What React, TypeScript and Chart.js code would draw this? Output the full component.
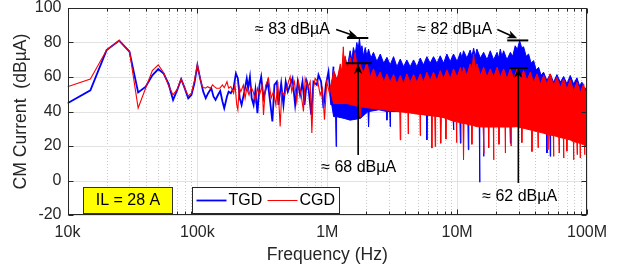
import React, { useEffect, useRef } from 'react';
import { Chart, registerables } from 'chart.js';
Chart.register(...registerables);

const FONT = "'Liberation Sans', Arial, Helvetica, sans-serif";
const TXT = '#262626';

// x-axis decade ticks
const xTickValues = [1e4, 1e5, 1e6, 1e7, 1e8];
const xTickLabels = ['10k', '100k', '1M', '10M', '100M'];
const yTickValues = [-20, 0, 20, 40, 60, 80, 100];

// ---------- TGD (blue) : individual trace, 10 kHz .. ~1.1 MHz ----------
const tgdTraceF = [
  10000, 15000, 20000, 25000, 30000, 35000, 40000, 45000, 50000, 55000, 60000, 65000, 70000, 75000,
  80000, 85000, 90000, 95000, 100000, 105000, 111000, 116000, 121000, 128000, 133000, 138000, 145000,
  150000, 156000, 161000, 169000, 174000, 181000, 190000, 198000, 205000, 212000, 219000, 230000,
  240000, 246000, 254000, 262000, 271000, 280000, 290000, 301000, 310000, 323000, 335000, 348000,
  363000, 378000, 392000, 409000, 421000, 442000, 460000, 479000, 497000, 518000, 540000, 566000,
  593000, 618000, 645000, 668000, 696000, 717000, 752000, 783000, 831000, 856000, 897000, 935000,
  975000, 1022000, 1072000, 1117000,
];
const tgdTraceV = [
  44.8, 52.3, 75.6, 81.1, 74.7, 51.1, 54.4, 61, 64.6, 62, 56, 46.7, 52.5, 58.8,
  53.4, 47.6, 49.6, 56.5, 66.9, 59.2, 51.5, 47.7, 50.6, 53.5, 48.7, 46.7, 50,
  51.9, 45.8, 41.9, 48.7, 51.5, 50.6, 53.5, 62.1, 59.2, 47.7, 43.8, 51.5,
  59.2, 53.5, 60.2, 47.7, 43.8, 52.5, 39, 55.4, 60.2, 47.7, 52.5, 57.3,
  45.8, 34.2, 55.4, 57.3, 43.8, 56.3, 43.8, 57.3, 51.5, 55.4, 59.2, 43.8,
  57.3, 49.6, 57.3, 43.8, 57.3, 53.5, 38.1, 57.3, 55.4, 61.2, 57.3, 41.9,
  55.4, 63, 43.8, 66,
];

// ---------- TGD (blue) : dense band, upper / lower envelopes ----------
const tgdUpperF = [
  1050000, 1120000, 1190000, 1260000, 1310000, 1370000, 1430000, 1500000, 1545000, 1590000, 1640000, 1690000,
  1730000, 1770000, 1810000, 1850000, 1900000, 1960000, 2020000, 2080000, 2170000, 2270000, 2410000,
  2560000, 2720000, 2880000, 3050000, 3240000, 3440000, 3650000, 3870000, 4100000, 4350000, 4620000,
  4900000, 5200000, 5500000, 5850000, 6200000, 6580000, 7000000, 7410000, 7860000, 8340000, 8850000,
  9380000, 10000000, 10600000, 10900000, 11200000, 11900000, 12600000, 13000000, 13400000, 13800000,
  14200000, 15100000, 16000000, 17000000, 18000000, 19100000, 20300000, 20900000, 21500000, 22100000,
  22800000, 24200000, 25700000, 26800000, 28000000, 29100000, 30300000, 31400000, 32500000, 34000000,
  35500000, 37100000, 38800000, 40600000, 42400000, 44300000, 46300000, 49100000, 52100000, 55300000,
  58700000, 62300000, 66100000, 70100000, 74300000, 78900000, 83700000, 87500000, 91400000, 95600000,
  100000000,
];
const tgdUpperV = [
  50, 63.7, 58, 65.6, 62, 71.4, 66, 75.2, 70, 77.1, 73, 80,
  76, 82.5, 75, 78.1, 72, 77.1, 72, 76.2, 71, 74.3, 69,
  73.3, 68, 71.4, 67, 71.8, 66, 70.4, 66, 69.9, 66, 69.9,
  66, 71, 67, 71.8, 68, 71.8, 68, 72.3, 68, 73.3, 69,
  73.3, 69, 74.3, 71, 75.2, 71, 75.6, 72, 76.7, 72,
  76.2, 71, 74.3, 70, 75.2, 70, 74.3, 71, 76.2, 72,
  75.2, 70, 74.3, 72, 78.1, 76, 81, 77, 77.5, 72,
  73.3, 68, 69.5, 64, 65.6, 61, 62.8, 58, 61.8, 57,
  61.4, 57, 60.3, 56, 60.9, 56, 59.5, 55, 57, 53,
  54.2,
];
const tgdLowerF = [
  1050000, 1120000, 1160000, 1170000, 1180000, 1350000, 1500000, 1800000, 2060000, 2080000, 2100000, 2500000,
  2860000, 2880000, 2900000, 3030000, 3050000, 3070000, 4000000, 5800000, 5850000, 5900000, 9300000,
  9380000, 9450000, 10500000, 10600000, 10700000, 12100000, 12200000, 12300000, 14800000, 14900000,
  15000000, 15900000, 16000000, 16100000, 25500000, 25700000, 25900000, 48800000, 49200000, 49600000,
  51700000, 52100000, 52500000, 100000000,
];
const tgdLowerV = [
  50, 37, 37, 19.7, 37, 36, 35, 36, 40, 31.2, 40, 41,
  40, 35, 40, 40, 31.2, 40, 40, 38, 23.5, 38, 36,
  29.3, 36, 35, 21.6, 35, 34, 17.8, 34, 33, -1,
  33, 33, 14, 33, 32, 21.6, 32, 29, 16, 29,
  29, 14, 29, 23,
];

// ---------- CGD (red) : individual trace ----------
const cgdTraceF = [
  10000, 15000, 20000, 25000, 30000, 35000, 40000, 45000, 50000, 55000, 60000, 65000, 70000, 75000,
  80000, 85000, 90000, 95000, 100000, 105000, 109000, 115000, 120000, 126000, 131000, 135000, 140000,
  149000, 156000, 161000, 169000, 174000, 181000, 190000, 195000, 201000, 205000, 210000, 216000,
  226000, 233000, 240000, 250000, 259000, 269000, 280000, 290000, 301000, 315000, 323000, 335000,
  353000, 370000, 385000, 402000, 416000, 434000, 447000, 468000, 488000, 503000, 518000, 533000,
  559000, 583000, 600000, 630000, 656000, 676000, 709000, 739000, 761000, 783000, 807000, 846000,
  882000, 919000, 952000, 992000, 1034000, 1084000, 1150000,
];
const cgdTraceV = [
  54.4, 58.8, 75.6, 81.3, 75, 42, 53.6, 63.7, 67, 62.5, 55, 49.6, 53, 58.8,
  53.4, 49, 50.6, 58, 67.3, 59.2, 54.4, 53.5, 54.4, 53.5, 55.4, 54.4, 53.5,
  53.5, 55.4, 53.8, 57.3, 53.5, 54.4, 50.6, 55.4, 43.8, 41, 54.4, 51.5,
  55.4, 47.7, 53.5, 49.6, 54.4, 51.5, 45.8, 53.5, 49.6, 55, 38, 55,
  59.2, 47.7, 51.5, 43.8, 57.3, 31.3, 51.5, 49.6, 53.5, 57.3, 60.2, 51.5,
  57.3, 45.8, 57.3, 49.6, 40, 59.2, 53.5, 57.3, 27.5, 53.5, 59.2, 57.3,
  49.6, 53.5, 35.2, 57.3, 51.5, 57.3, 47.7,
];

// ---------- CGD (red) : dense band ----------
const cgdUpperF = [
  1060000, 1120000, 1190000, 1260000, 1295000, 1330000, 1350000, 1370000, 1430000, 1500000, 1570000, 1640000,
  1710000, 1790000, 1900000, 2020000, 2140000, 2270000, 2410000, 2560000, 2720000, 2880000, 3050000,
  3240000, 3440000, 3650000, 3870000, 4100000, 4350000, 4620000, 4900000, 5200000, 5500000, 5850000,
  6200000, 6580000, 7000000, 7410000, 7860000, 8340000, 8850000, 9380000, 10000000, 10600000, 10900000,
  11200000, 11900000, 12600000, 13000000, 13400000, 13800000, 14200000, 15100000, 16000000, 17000000,
  18000000, 19100000, 20300000, 21500000, 22800000, 24200000, 25700000, 27300000, 28900000, 30700000,
  32500000, 34500000, 36600000, 38800000, 41200000, 43700000, 46300000, 49100000, 52100000, 55300000,
  58700000, 62300000, 66100000, 70100000, 74300000, 78900000, 83700000, 88800000, 94200000, 97000000,
  100000000,
];
const cgdUpperV = [
  52, 63.7, 58, 67.6, 63, 77.5, 66, 72.3, 65, 71.4, 66, 74.3,
  64, 67.6, 62, 68.5, 60, 64.7, 59, 62.8, 57, 61.8, 57,
  61.4, 56, 60.9, 56, 61.8, 57, 61.4, 57, 61.8, 57, 62.8,
  58, 62.8, 58, 63.7, 59, 64.1, 59, 64.7, 60, 65.6, 61,
  65.6, 61, 67.6, 64, 73.3, 64, 67.6, 61, 65.6, 60,
  64.7, 60, 65.6, 60, 64.7, 59, 64.7, 59, 64.7, 59,
  63.7, 58, 62.8, 57, 61.8, 56, 60.9, 56, 61.8, 55,
  59.9, 54, 58.9, 53, 58.4, 52, 57, 51, 56.1, 51,
  53.2,
];
const cgdLowerF = [
  1060000, 1120000, 1420000, 1770000, 1790000, 1810000, 2270000, 2880000, 3620000, 3650000, 3680000,
  4180000, 4200000, 4220000, 4620000, 5170000, 5200000, 5230000, 5850000, 6340000, 6390000,
  6440000, 6730000, 6780000, 6830000, 7410000, 7450000, 7500000, 7550000, 8150000, 8200000,
  8250000, 8850000, 9850000, 9900000, 9950000, 11100000, 11200000, 11300000, 12930000, 13000000,
  13070000, 14200000, 15900000, 16000000, 16100000, 17400000, 17500000, 17600000, 19000000, 19100000,
  19200000, 20900000, 21000000, 21100000, 23400000, 23500000, 23600000, 25900000, 26000000, 26100000,
  28900000, 31300000, 31500000, 31700000, 36600000, 37500000, 37700000, 37900000, 41800000, 42000000,
  42200000, 46300000, 49800000, 50000000, 50200000, 55000000, 55300000, 55600000, 58700000, 60700000,
  61000000, 61300000, 65800000, 66100000, 66400000, 69700000, 70000000, 70300000, 74300000, 78600000,
  78900000, 79200000, 83600000, 84000000, 84400000, 88400000, 88700000, 89000000, 94200000, 95600000,
  96000000, 96400000, 100000000,
];
const cgdLowerV = [
  52, 44.6, 44.6, 42.7, 37, 42.7, 41.7, 40.8, 39.8, 23.5, 39.8,
  39.3, 27, 39.3, 38.8, 38.3, 26, 38.3, 37.9, 37.5, 18.8,
  37.5, 37.3, 19.7, 37.3, 36.9, 36.9, 21.6, 36.9, 36, 24,
  36, 35, 34, 22, 34, 33.1, 12, 33.1, 32, 21,
  32, 31.2, 31, 15.9, 31, 31, 19, 31, 31, 12,
  31, 31, 21, 31, 31, 15.9, 31, 31, 20, 31,
  31.2, 30.5, 22, 30.5, 29.3, 29, 16.8, 29, 28.2, 19,
  28.2, 27.4, 26.6, 18, 26.6, 26, 14, 26, 25.5, 25,
  16, 25, 24.5, 13, 24.5, 24, 17, 24, 23.5, 22.5,
  12, 22.5, 22, 15, 22, 21.5, 13, 21.5, 20.7, 20.5,
  15, 20.5, 19.7,
];

// ---------- annotations (frequency in Hz, level in dBµA) ----------
const annoTexts = [
  { text: '\u2248 83 dB\u00B5A', f: 278000, v: 87.6 },
  { text: '\u2248 68 dB\u00B5A', f: 898000, v: 7.2 },
  { text: '\u2248 82 dB\u00B5A', f: 4930000, v: 87.6 },
  { text: '\u2248 62 dB\u00B5A', f: 15600000, v: -9.6 },
];
const annoLines = [
  { f1: 1420000, f2: 2070000, v: 82.6 },
  { f1: 1390000, f2: 2200000, v: 68 },
  { f1: 24300000, f2: 35300000, v: 81.2 },
  { f1: 25200000, f2: 35100000, v: 65.2 },
];
const annoArrows = [
  { f1: 1171000, v1: 87.5, f2: 1700000, v2: 83.4 },
  { f1: 1730000, v1: 14.8, f2: 1730000, v2: 67.6 },
  { f1: 20400000, v1: 87.5, f2: 29000000, v2: 82.4 },
  { f1: 29600000, v1: -1.4, f2: 29600000, v2: 65.3 },
];

const BLUE = '#0000ff';
const RED = '#ff0000';

const pts = (f: number[], v: number[]) => f.map((x, i) => ({ x, y: v[i] }));

function drawArrow(ctx: CanvasRenderingContext2D, x1: number, y1: number, x2: number, y2: number) {
  const ang = Math.atan2(y2 - y1, x2 - x1);
  const c = Math.cos(ang), s = Math.sin(ang);
  const len = 10, half = 4.2;
  ctx.beginPath();
  ctx.moveTo(x1, y1);
  ctx.lineTo(x2 - 6 * c, y2 - 6 * s);
  ctx.stroke();
  const bx = x2 - len * c, by = y2 - len * s;
  ctx.beginPath();
  ctx.moveTo(x2, y2);
  ctx.lineTo(bx - half * s, by + half * c);
  ctx.lineTo(x2 - 0.7 * len * c, y2 - 0.7 * len * s);
  ctx.lineTo(bx + half * s, by - half * c);
  ctx.closePath();
  ctx.fill();
}

const decorPlugin = {
  id: 'decor',
  beforeDatasetsDraw(chart: any) {
    const { ctx, chartArea: a, scales } = chart;
    const x = scales.x, y = scales.y;
    ctx.save();
    ctx.lineWidth = 1;
    ctx.strokeStyle = '#c8c8c8';
    ctx.setLineDash([1, 2]);
    for (let d = 4; d <= 7; d++) {
      for (let m = 2; m <= 9; m++) {
        const px = Math.round(x.getPixelForValue(m * Math.pow(10, d))) + 0.5;
        ctx.beginPath();
        ctx.moveTo(px, a.top);
        ctx.lineTo(px, a.bottom);
        ctx.stroke();
      }
    }
    ctx.setLineDash([]);
    ctx.strokeStyle = '#e2e2e2';
    for (const v of xTickValues) {
      const px = Math.round(x.getPixelForValue(v)) + 0.5;
      ctx.beginPath();
      ctx.moveTo(px, a.top);
      ctx.lineTo(px, a.bottom);
      ctx.stroke();
    }
    for (const v of yTickValues) {
      const py = Math.round(y.getPixelForValue(v)) + 0.5;
      ctx.beginPath();
      ctx.moveTo(a.left, py);
      ctx.lineTo(a.right, py);
      ctx.stroke();
    }
    ctx.restore();
  },
  afterDatasetsDraw(chart: any) {
    const { ctx, chartArea: a, scales } = chart;
    const x = scales.x, y = scales.y;
    ctx.save();
    ctx.strokeStyle = TXT;
    ctx.lineWidth = 1;
    const L = Math.round(a.left) + 0.5, R = Math.round(a.right) - 0.5;
    const T = Math.round(a.top) + 0.5, B = Math.round(a.bottom) - 0.5;
    ctx.strokeRect(L, T, R - L, B - T);
    ctx.beginPath();
    for (let d = 4; d <= 8; d++) {
      for (let m = 1; m <= 9; m++) {
        const f = m * Math.pow(10, d);
        if (f > 1e8) break;
        const px = Math.round(x.getPixelForValue(f)) + 0.5;
        const len = m === 1 ? 5 : 3;
        ctx.moveTo(px, B); ctx.lineTo(px, B - len);
        ctx.moveTo(px, T); ctx.lineTo(px, T + len);
      }
    }
    for (const v of yTickValues) {
      const py = Math.round(y.getPixelForValue(v)) + 0.5;
      ctx.moveTo(L, py); ctx.lineTo(L + 5, py);
      ctx.moveTo(R, py); ctx.lineTo(R - 5, py);
    }
    ctx.stroke();

    ctx.fillStyle = '#000';
    ctx.strokeStyle = '#000';
    ctx.font = `16px ${FONT}`;
    ctx.textBaseline = 'middle';
    ctx.textAlign = 'left';
    for (const t of annoTexts) {
      ctx.fillText(t.text, x.getPixelForValue(t.f), y.getPixelForValue(t.v));
    }
    ctx.lineWidth = 2;
    for (const l of annoLines) {
      const py = y.getPixelForValue(l.v);
      ctx.beginPath();
      ctx.moveTo(x.getPixelForValue(l.f1), py);
      ctx.lineTo(x.getPixelForValue(l.f2), py);
      ctx.stroke();
    }
    ctx.lineWidth = 1.6;
    for (const ar of annoArrows) {
      drawArrow(ctx, x.getPixelForValue(ar.f1), y.getPixelForValue(ar.v1), x.getPixelForValue(ar.f2), y.getPixelForValue(ar.v2));
    }

    const ilx = Math.round(a.left + 15.5) + 0.5, ily = Math.round(a.bottom - 28) + 0.5;
    ctx.fillStyle = '#ffff00';
    ctx.fillRect(ilx, ily, 89, 26);
    ctx.strokeStyle = '#333333';
    ctx.lineWidth = 1;
    ctx.strokeRect(ilx, ily, 89, 26);
    ctx.fillStyle = '#000';
    ctx.textAlign = 'center';
    ctx.fillText('IL = 28 A', ilx + 44.5, ily + 13.5);

    const lx = Math.round(a.left + 124.5) + 0.5, ly = Math.round(a.bottom - 28) + 0.5;
    ctx.fillStyle = '#ffffff';
    ctx.fillRect(lx, ly, 147, 26);
    ctx.strokeStyle = '#262626';
    ctx.strokeRect(lx, ly, 147, 26);
    const items = [
      { label: 'TGD', color: BLUE, w: 1.8, off: 4 },
      { label: 'CGD', color: RED, w: 1, off: 75 },
    ];
    ctx.textAlign = 'left';
    for (const it of items) {
      ctx.strokeStyle = it.color;
      ctx.lineWidth = it.w;
      ctx.beginPath();
      ctx.moveTo(lx + it.off, ly + 13);
      ctx.lineTo(lx + it.off + 30, ly + 13);
      ctx.stroke();
      ctx.fillStyle = '#000';
      ctx.fillText(it.label, lx + it.off + 32, ly + 13.5);
    }
    ctx.restore();
  },
};

export default function App() {
  const ref = useRef<HTMLCanvasElement | null>(null);
  useEffect(() => {
    document.body.style.margin = '0';
    const canvas = ref.current;
    if (!canvas) return;
    const chart = new Chart(canvas, {
      type: 'line',
      data: {
        datasets: [
          { label: 'CGD', data: pts(cgdTraceF, cgdTraceV), borderColor: RED, borderWidth: 1.1, pointRadius: 0, fill: false },
          { label: 'CGD hi', data: pts(cgdUpperF, cgdUpperV), borderColor: RED, backgroundColor: RED, borderWidth: 1, pointRadius: 0, fill: '+1' },
          { label: 'CGD lo', data: pts(cgdLowerF, cgdLowerV), borderColor: RED, borderWidth: 1, pointRadius: 0, fill: false },
          { label: 'TGD', data: pts(tgdTraceF, tgdTraceV), borderColor: BLUE, borderWidth: 1.8, pointRadius: 0, fill: false },
          { label: 'TGD hi', data: pts(tgdUpperF, tgdUpperV), borderColor: BLUE, backgroundColor: BLUE, borderWidth: 1, pointRadius: 0, fill: '+1' },
          { label: 'TGD lo', data: pts(tgdLowerF, tgdLowerV), borderColor: BLUE, borderWidth: 1, pointRadius: 0, fill: false },
        ],
      },
      options: {
        responsive: false,
        animation: false,
        devicePixelRatio: 1,
        layout: { padding: { top: 8, right: 34, bottom: 0, left: 0 } },
        plugins: { legend: { display: false }, tooltip: { enabled: false } },
        elements: { line: { tension: 0 }, point: { radius: 0 } },
        scales: {
          x: {
            type: 'logarithmic',
            min: 1e4,
            max: 1e8,
            grid: { display: false, drawTicks: false },
            border: { display: false },
            afterBuildTicks: (s: any) => { s.ticks = xTickValues.map((v) => ({ value: v })); },
            afterFit: (s: any) => { s.height = 54; s.paddingLeft = 0; s.paddingRight = 0; },
            ticks: {
              autoSkip: false, maxRotation: 0, minRotation: 0, padding: 8, color: TXT,
              font: { family: FONT, size: 16 },
              callback: (_v: any, i: number) => xTickLabels[i],
            },
            title: { display: true, text: 'Frequency (Hz)', color: TXT, font: { family: FONT, size: 17.6 }, padding: { top: 0, bottom: 3.5 } },
          },
          y: {
            min: -20,
            max: 100,
            grid: { display: false, drawTicks: false },
            border: { display: false },
            afterFit: (s: any) => { s.width = 67.5; s.paddingTop = 0; s.paddingBottom = 0; },
            ticks: { stepSize: 20, padding: 6, color: TXT, font: { family: FONT, size: 16 } },
            title: { display: true, text: 'CM Current  (dB\u00B5A)', color: TXT, font: { family: FONT, size: 17.6 }, padding: { top: 10.5, bottom: 0 } },
          },
        },
      } as any,
      plugins: [decorPlugin],
    });
    return () => chart.destroy();
  }, []);
  return <canvas ref={ref} width={621} height={269} style={{ display: 'block', width: 621, height: 269 }} />;
}
